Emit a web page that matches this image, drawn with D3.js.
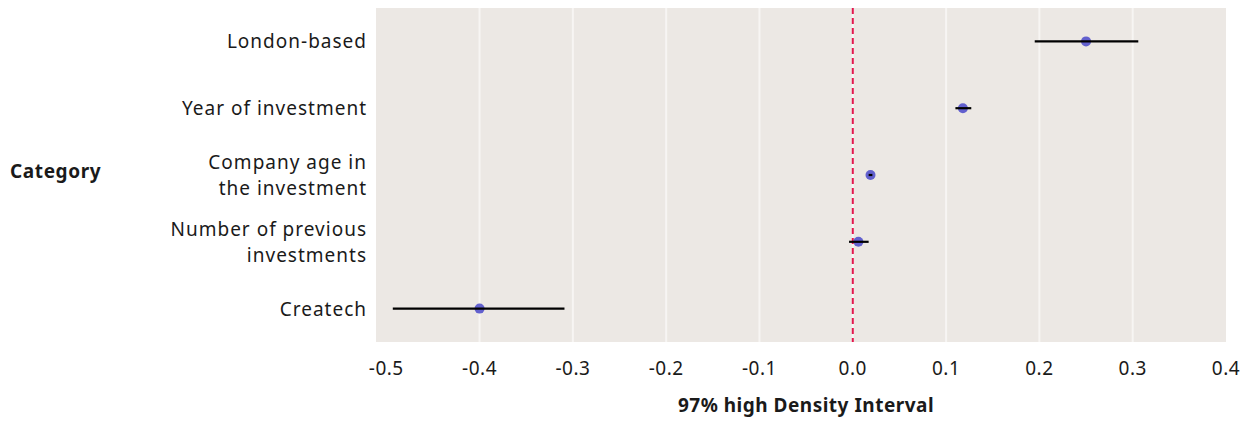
<!DOCTYPE html>
<html>
<head>
<meta charset="utf-8">
<script src="https://cdn.jsdelivr.net/npm/d3@7"></script>
<style>
  body { margin: 0; background: #fff; }
  text { font-family: "Noto Sans", sans-serif; fill: #1a1a1a; }
</style>
</head>
<body>
<div id="chart"></div>
<script>
// data
const categories = [
  ["London-based"],
  ["Year of investment"],
  ["Company age in", "the investment"],
  ["Number of previous", "investments"],
  ["Createch"]
];
const means = [0.25, 0.118, 0.019, 0.006, -0.4];
const lows = [0.195, 0.11, 0.017, -0.004, -0.493];
const highs = [0.306, 0.127, 0.021, 0.017, -0.309];
const xTicks = [-0.5, -0.4, -0.3, -0.2, -0.1, 0.0, 0.1, 0.2, 0.3, 0.4];

const W = 1252, H = 421;
const margin = {top: 8, right: 26, bottom: 79, left: 376};
const innerW = W - margin.left - margin.right;
const innerH = H - margin.top - margin.bottom;

let svg = d3.select("#chart")
  .append("svg")
  .attr("width", W)
  .attr("height", H);

let g = svg.append("g")
  .attr("transform", `translate(${margin.left},${margin.top})`);

let x = d3.scaleLinear().domain([-0.511, 0.4]).range([0, innerW]);
let y = d3.scaleBand().domain(d3.range(categories.length)).range([0, innerH]);

// panel background
g.append("rect")
  .attr("width", innerW)
  .attr("height", innerH)
  .attr("fill", "#ece8e4");

// gridlines
g.selectAll(".grid")
  .data(xTicks.filter(t => t > -0.5 && t < 0.4))
  .enter()
  .append("line")
  .attr("x1", d => x(d))
  .attr("x2", d => x(d))
  .attr("y1", 0)
  .attr("y2", innerH)
  .attr("stroke", "#f7f5f3")
  .attr("stroke-width", 2);

// zero reference line
g.append("line")
  .attr("x1", x(0))
  .attr("x2", x(0))
  .attr("y1", 0)
  .attr("y2", innerH)
  .attr("stroke", "#e3174d")
  .attr("stroke-width", 2)
  .attr("stroke-dasharray", "6,4");

// points
g.selectAll(".pt")
  .data(means)
  .enter()
  .append("circle")
  .attr("cx", d => x(d))
  .attr("cy", (d, i) => y(i) + y.bandwidth() / 2)
  .attr("r", 5)
  .attr("fill", "#5b59cc")
  .attr("fill-opacity", 0.95);

// intervals, drawn over the points
g.selectAll(".hdi")
  .data(means)
  .enter()
  .append("line")
  .attr("x1", (d, i) => x(lows[i]))
  .attr("x2", (d, i) => x(highs[i]))
  .attr("y1", (d, i) => y(i) + y.bandwidth() / 2)
  .attr("y2", (d, i) => y(i) + y.bandwidth() / 2)
  .attr("stroke", "#000")
  .attr("stroke-width", 2.2);

// category labels, one text per line
const lh = 26;
categories.forEach((lines, i) => {
  let cy = y(i) + y.bandwidth() / 2;
  lines.forEach((line, k) => {
    g.append("text")
      .attr("text-anchor", "end")
      .attr("font-size", 19)
      .attr("letter-spacing", 1.0)
      .attr("x", -9)
      .attr("y", cy - (lines.length - 1) * lh / 2 + k * lh + 7)
      .text(line);
  });
});

// x axis tick labels
g.selectAll(".tick-label")
  .data(xTicks)
  .enter()
  .append("text")
  .attr("x", d => x(d))
  .attr("y", innerH + 33)
  .attr("text-anchor", "middle")
  .attr("font-size", 19)
  .attr("letter-spacing", 0.5)
  .text(d => d3.format(".1f")(d).replace("−", "-"));

// axis titles
svg.append("text")
  .attr("x", 806)
  .attr("y", 412)
  .attr("text-anchor", "middle")
  .attr("font-size", 19)
  .attr("letter-spacing", 0.5)
  .attr("font-weight", "bold")
  .text("97% high Density Interval");

svg.append("text")
  .attr("x", 10)
  .attr("y", 178)
  .attr("font-size", 19)
  .attr("letter-spacing", 0.6)
  .attr("font-weight", "bold")
  .text("Category");
</script>
</body>
</html>
